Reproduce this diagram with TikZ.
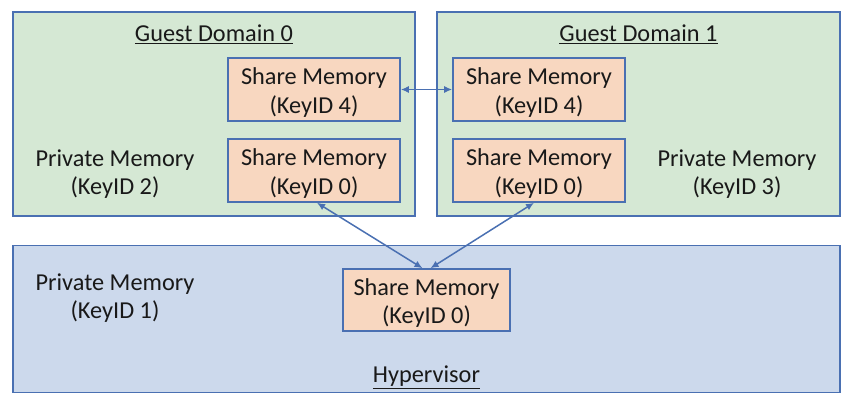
\documentclass[tikz,border=0pt]{standalone}
\usepackage{fontspec}
\setmainfont{Carlito}
\usetikzlibrary{arrows.meta}
\definecolor{gfill}{RGB}{213,232,212}
\definecolor{hfill}{RGB}{204,217,236}
\definecolor{sfill}{RGB}{248,215,192}
\definecolor{bord}{RGB}{74,112,178}
\definecolor{txt}{RGB}{25,25,25}
\newcommand{\twoline}[2]{\raisebox{-4pt}[\height][\depth]{\begin{tabular}{@{}c@{}}#1\\#2\end{tabular}}}
\tikzset{
  domain/.style={draw=bord, line width=1.8pt, fill=gfill, minimum width=#1, inner sep=0pt},
  sharebox/.style={draw=bord, line width=1.6pt, fill=sfill, minimum width=172pt, minimum height=63pt, inner sep=0pt, text=txt},
  lbl/.style={align=center, text=txt, inner sep=0pt},
  link/.style={draw=bord, line width=1.5pt, {Latex[length=8pt,width=7pt]}-{Latex[length=8pt,width=7pt]}}
}
\begin{document}
\begin{tikzpicture}[x=1pt,y=-1pt, font=\fontsize{24.3}{28.5}\selectfont]
\useasboundingbox (0,0) rectangle (853,406);
\node[domain=402pt, minimum height=204pt] (g0) at (214,114) {};
\node[domain=403pt, minimum height=204pt] (g1) at (638.5,114) {};
\node[draw=bord, line width=1.8pt, fill=hfill, minimum width=827pt, minimum height=147pt, inner sep=0pt] (hv) at (426.5,319) {};
\node[lbl] (t0) at (214,34) {\underline{Guest Domain 0}};
\node[lbl] (t1) at (638.5,34) {\underline{Guest Domain 1}};
\node[lbl] (th) at (426.5,377) {\underline{Hypervisor}};
\node[lbl] (p2) at (115,174) {Private Memory\\(KeyID 2)};
\node[lbl] (p3) at (737,174) {Private Memory\\(KeyID 3)};
\node[lbl] (p1) at (115,298) {Private Memory\\(KeyID 1)};
\node[sharebox] (s04) at (314,89.5) {\twoline{Share Memory}{(KeyID 4)}};
\node[sharebox] (s00) at (314,170.5) {\twoline{Share Memory}{(KeyID 0)}};
\node[sharebox] (s14) at (539,89.5) {\twoline{Share Memory}{(KeyID 4)}};
\node[sharebox] (s10) at (539,170.5) {\twoline{Share Memory}{(KeyID 0)}};
\node[sharebox, minimum width=167pt, minimum height=62pt] (sh) at (426.5,300) {\twoline{Share Memory}{(KeyID 0)}};
\draw[link] (s04.east) -- (s14.west);
\draw[link] ([xshift=3pt]s00.south) -- ([xshift=-4pt]sh.north);
\draw[link] ([xshift=-5pt]s10.south) -- ([xshift=4pt]sh.north);
\end{tikzpicture}
\end{document}
